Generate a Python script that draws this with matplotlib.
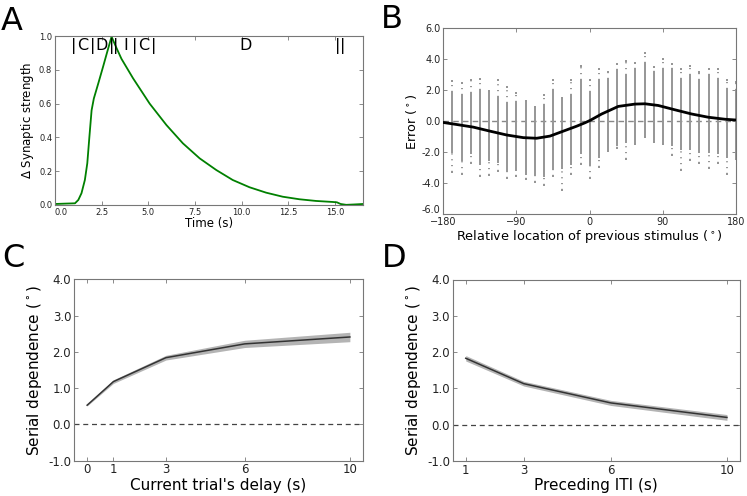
import matplotlib
matplotlib.use("Agg")
import matplotlib.pyplot as plt
from matplotlib.transforms import ScaledTranslation

# ---- panel A: synaptic strength trace ----
time_s = [0.0, 0.5, 1.07, 1.25, 1.42, 1.60, 1.73, 1.84, 1.96, 2.08, 2.32, 2.58, 2.80, 3.03,
          3.29, 3.56, 4.18, 5.07, 5.97, 6.85, 7.75, 8.64, 9.52, 10.42, 11.31, 12.2, 13.09,
          13.98, 14.87, 15.1, 15.3, 15.6, 16.0, 16.5]
syn_strength = [0.006, 0.008, 0.01, 0.03, 0.07, 0.148, 0.247, 0.40, 0.56, 0.63, 0.72, 0.82,
                0.907, 0.996, 0.93, 0.865, 0.75, 0.60, 0.473, 0.365, 0.276, 0.207, 0.148,
                0.105, 0.073, 0.049, 0.034, 0.024, 0.018, 0.016, 0.006, 0.001, 0.003, 0.006]
bar_times = [1.0, 2.0, 3.03, 3.24, 4.27, 5.29, 15.13, 15.4]
phase_labels = ["C", "D", "I", "C", "D"]
phase_times = [1.5, 2.5, 3.78, 4.77, 10.2]

# ---- panel B: error vs relative location ----
col_pos = [-168.75, -157.5, -146.25, -135, -123.75, -112.5, -101.25, -90, -78.75, -67.5,
           -56.25, -45, -33.75, -22.5, -11.25, 0, 11.25, 22.5, 33.75, 45, 56.25, 67.5,
           78.75, 90, 101.25, 112.5, 123.75, 135, 146.25, 157.5, 168.75, 180]
col_top = [2.6, 2.5, 2.65, 2.75, 1.95, 2.65, 2.2, 1.8, 1.3, 0.95, 1.7, 2.65, 1.5, 2.65, 3.6,
           2.65, 3.4, 3.2, 3.7, 3.9, 3.8, 4.4, 3.5, 4.0, 3.7, 3.4, 3.6, 3.2, 3.4, 3.4, 2.65, 2.55]
col_hi = [1.9, 1.7, 1.8, 2.0, 1.9, 1.6, 1.15, 1.25, 1.25, 0.95, 1.05, 2.0, 1.4, 1.7, 2.65,
          1.9, 2.65, 2.75, 3.3, 3.0, 3.4, 3.8, 3.2, 3.4, 3.4, 2.75, 3.0, 2.65, 3.0, 2.75, 2.1, 2.0]
col_lo = [-2.05, -2.6, -2.15, -2.8, -2.6, -2.7, -3.3, -3.2, -3.45, -3.45, -3.6, -3.1, -3.1,
          -2.8, -2.15, -2.9, -2.4, -1.85, -1.6, -1.4, -1.45, -1.0, -1.3, -1.4, -1.6, -1.85,
          -1.85, -2.05, -2.05, -2.15, -2.4, -2.4]
col_bot = [-3.3, -3.4, -2.7, -3.55, -3.45, -3.25, -3.65, -3.55, -3.75, -3.9, -4.15, -3.55,
           -4.45, -3.4, -2.75, -3.65, -2.95, -1.9, -1.7, -2.45, -1.5, -1.05, -1.35, -1.45,
           -2.2, -3.15, -2.5, -2.7, -3.0, -2.7, -3.4, -2.45]
fit_x = [-180, -163.6, -143.1, -122.6, -102, -81.6, -65.2, -48.8, -32.4, -16, -5.8, 0.4,
         14.8, 35.2, 55.7, 68, 84.4, 104.9, 125.4, 145.9, 166.4, 180]
fit_y = [-0.08, -0.21, -0.38, -0.64, -0.89, -1.06, -1.1, -0.96, -0.64, -0.32, -0.1, 0.05,
         0.47, 0.96, 1.11, 1.13, 1.02, 0.74, 0.47, 0.26, 0.13, 0.08]

# ---- panel C: serial dependence vs current delay ----
delay = [0, 1, 3, 6, 10]
sd_delay = [0.53, 1.18, 1.84, 2.22, 2.41]
err_delay = [0.02, 0.05, 0.065, 0.1, 0.13]

# ---- panel D: serial dependence vs preceding ITI ----
iti = [1, 3, 6, 10]
sd_iti = [1.83, 1.13, 0.6, 0.2]
err_iti = [0.075, 0.065, 0.07, 0.08]

W, H = 747, 496
fig = plt.figure(figsize=(W / 100, H / 100), dpi=100)


def frac(left, top, right, bottom):
    return [left / W, 1 - bottom / H, (right - left) / W, (bottom - top) / H]


def style(ax, size):
    for s in ax.spines.values():
        s.set_color("#777777")
        s.set_linewidth(0.8)
    ax.tick_params(direction="in", top=True, right=True, length=3, width=0.6,
                   color="#777777", labelsize=size, pad=2, labelcolor="#222222")


def nudge(label, dx, dy):
    label.set_transform(label.get_transform() + ScaledTranslation(dx / 100, dy / 100, fig.dpi_scale_trans))


# A
axA = fig.add_axes(frac(55, 36, 363, 205))
axA.plot(time_s, syn_strength, color=(0, 0.5, 0), lw=1.3)
axA.set_xlim(0, 16.5)
axA.set_ylim(0, 1.0)
axA.set_xticks([0, 2.5, 5, 7.5, 10, 12.5, 15])
axA.set_xticklabels(["0.0", "2.5", "5.0", "7.5", "10.0", "12.5", "15.0"])
axA.set_yticks([0, 0.2, 0.4, 0.6, 0.8, 1.0])
axA.set_yticklabels(["0.0", "0.2", "0.4", "0.6", "0.8", "1.0"])
style(axA, 6)
nudge(axA.get_xticklabels()[0], 6, 0)
axA.set_xlabel("Time (s)", fontsize=8.5, labelpad=0)
axA.set_ylabel(r"$\Delta$ Synaptic strength", fontsize=8.5, labelpad=2)
for t in bar_times:
    axA.text(t, 0.92, "|", ha="center", va="baseline", fontsize=11.5)
for t, lab in zip(phase_times, phase_labels):
    axA.text(t, 0.92, lab, ha="center", va="baseline", fontsize=11.5)

# B
axB = fig.add_axes(frac(443.3, 28.5, 736, 214))
axB.axhline(0, color="#888888", lw=1, ls=(0, (4, 3)), zorder=1)
axB.vlines(col_pos, col_lo, col_hi, color="#969696", lw=1.4, zorder=2)
axB.vlines(col_pos, col_hi, col_top, color="#969696", lw=1.4, ls=(0, (0.6, 2.4)), zorder=2)
axB.vlines(col_pos, col_bot, col_lo, color="#969696", lw=1.4, ls=(0, (0.6, 2.4)), zorder=2)
axB.scatter(col_pos, col_top, s=2, marker="s", color="#969696", lw=0, zorder=2)
axB.scatter(col_pos, col_bot, s=2, marker="s", color="#969696", lw=0, zorder=2)
axB.plot(fit_x, fit_y, color="black", lw=2, zorder=3)
axB.set_xlim(-180, 180)
axB.set_ylim(-6, 6)
axB.set_xticks([-180, -90, 0, 90, 180])
axB.set_yticks([-6, -4, -2, 0, 2, 4, 6])
axB.set_yticklabels(["-6.0", "-4.0", "-2.0", "0.0", "2.0", "4.0", "6.0"])
style(axB, 7)
nudge(axB.get_yticklabels()[0], 0, 5)
axB.set_xlabel(r"Relative location of previous stimulus ($^\circ$)", fontsize=9.3, labelpad=1)
axB.set_ylabel(r"Error ($^\circ$)", fontsize=9.3, labelpad=2)


def sd_panel(rect, x, y, e, xlim, xticks, xlabel):
    ax = fig.add_axes(rect)
    lo = [a - b for a, b in zip(y, e)]
    hi = [a + b for a, b in zip(y, e)]
    ax.fill_between(x, lo, hi, color="#b4b4b4", lw=0)
    ax.plot(x, y, color="#333333", lw=1.1)
    ax.axhline(0, color="#444444", lw=0.9, ls=(0, (4, 3)))
    ax.set_xlim(*xlim)
    ax.set_ylim(-1, 4)
    ax.set_xticks(xticks)
    ax.set_yticks([-1, 0, 1, 2, 3, 4])
    ax.set_yticklabels(["-1.0", "0.0", "1.0", "2.0", "3.0", "4.0"])
    style(ax, 8.5)
    ax.set_xlabel(xlabel, fontsize=11, labelpad=1)
    ax.set_ylabel(r"Serial dependence ($^\circ$)", fontsize=11, labelpad=3)
    return ax


sd_panel(frac(74, 279.3, 363, 460.7), delay, sd_delay, err_delay, (-0.5, 10.5),
         delay, "Current trial's delay (s)")
sd_panel(frac(452.7, 279.5, 740, 461), iti, sd_iti, err_iti, (0.55, 10.45),
         iti, "Preceding ITI (s)")

for lab, x, y in [("A", 1, 30), ("B", 381, 28), ("C", 2, 267), ("D", 382, 267)]:
    fig.text(x / W, 1 - y / H, lab, fontsize=23, va="baseline", ha="left")

fig.savefig("out.png", dpi=100)
